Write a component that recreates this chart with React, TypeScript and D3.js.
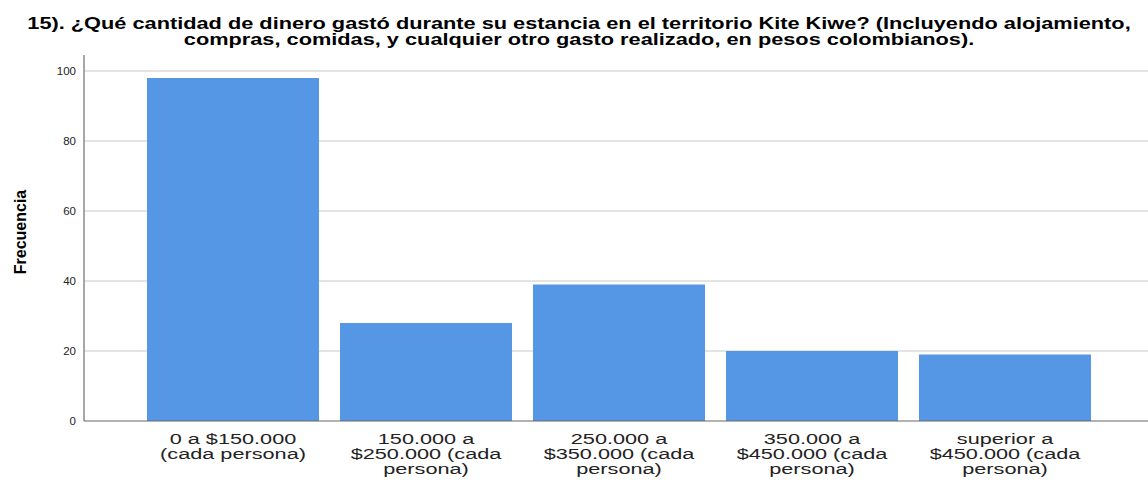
import React from "react";
import * as d3 from "d3";

const categories: string[][] = [
  ["0 a $150.000", "(cada persona)"],
  ["150.000 a", "$250.000 (cada", "persona)"],
  ["250.000 a", "$350.000 (cada", "persona)"],
  ["350.000 a", "$450.000 (cada", "persona)"],
  ["superior a", "$450.000 (cada", "persona)"],
];
const frequencies: number[] = [98, 28, 39, 20, 19];
const yTicks: number[] = [0, 20, 40, 60, 80, 100];
const titleLines: string[] = [
  "15). ¿Qué cantidad de dinero gastó durante su estancia en el territorio Kite Kiwe? (Incluyendo alojamiento,",
  "compras, comidas, y cualquier otro gasto realizado, en pesos colombianos).",
];
const yLabel = "Frecuencia";

export default function App() {
  const W = 1148, H = 483;
  const axisX = 84, plotRight = 1148, baseY = 421, topY = 55;
  const y = d3.scaleLinear().domain([0, 100]).range([baseY, 71]);
  const keys = categories.map((c) => c.join(" "));
  const pi = 21 / 193;
  const x = d3.scaleBand<string>().domain(keys).range([136.5, 1101.5]).paddingInner(pi).paddingOuter(pi / 2);
  const font = "'Liberation Sans', Arial, sans-serif";
  return (
    <svg width={W} height={H} style={{ position: "absolute", left: 0, top: 0, background: "#fff" }}>
      <g transform="translate(579,0) scale(1.28,1)" fontFamily={font} fontWeight="bold" fontSize={17} textAnchor="middle" fill="#000">
        {titleLines.map((t, i) => (
          <text key={i} x={0} y={29 + i * 16}>{t}</text>
        ))}
      </g>
      {yTicks.filter((t) => t > 0).map((t) => (
        <line key={t} x1={axisX} x2={plotRight} y1={y(t)} y2={y(t)} stroke="#c8c8c8" strokeWidth={1} />
      ))}
      {frequencies.map((v, i) => (
        <rect key={i} x={x(keys[i])} y={y(v)} width={x.bandwidth()} height={baseY - y(v)} fill="#5596e5" />
      ))}
      <line x1={axisX} x2={axisX} y1={topY} y2={baseY} stroke="#888" strokeWidth={1.5} />
      <line x1={axisX} x2={plotRight} y1={baseY} y2={baseY} stroke="#666" strokeWidth={1.2} />
      <g fontFamily={font} fontSize={11.5} textAnchor="end" fill="#222">
        {yTicks.map((t) => (
          <text key={t} x={76} y={y(t) + 4}>{t}</text>
        ))}
      </g>
      <text
        transform={`translate(26,232) rotate(-90)`}
        textAnchor="middle"
        fontFamily="'Liberation Sans Narrow', 'Liberation Sans', Arial, sans-serif"
        fontWeight="bold"
        fontSize={16}
        fill="#000"
      >
        {yLabel}
      </text>
      <g fontFamily={font} fontSize={15.5} textAnchor="middle" fill="#222">
        {categories.map((lines, i) => {
          const cx = (x(keys[i]) as number) + x.bandwidth() / 2;
          return (
            <g key={i} transform={`translate(${cx},0) scale(1.4,1)`}>
              <text x={0} y={444}>
                {lines.map((l, j) => (
                  <tspan key={j} x={0} dy={j === 0 ? 0 : 15}>{l}</tspan>
                ))}
              </text>
            </g>
          );
        })}
      </g>
    </svg>
  );
}
